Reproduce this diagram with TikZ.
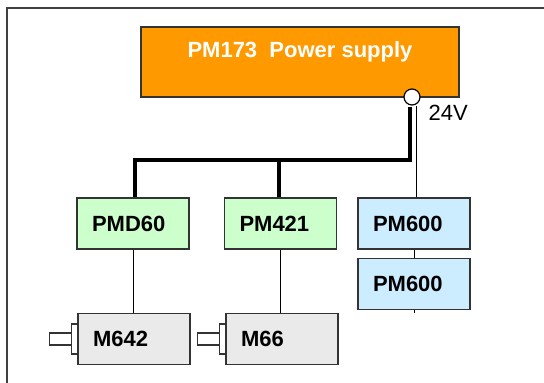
\documentclass[tikz,border=0pt]{standalone}
\usepackage{fontspec}
\setmainfont{Liberation Sans}
\usepackage{xcolor}
\usepackage{tikz}
\usetikzlibrary{positioning}

\definecolor{psorange}{HTML}{FF9900}
\definecolor{drvgreen}{HTML}{CCFFCC}
\definecolor{modblue}{HTML}{CCECFF}
\definecolor{motgray}{HTML}{EAEAEA}
\definecolor{edge}{HTML}{333333}

\tikzset{
  unit/.style={draw=edge, line width=1.2pt, minimum width=112pt, minimum height=51pt,
    inner xsep=15pt, text width=82pt, align=left, font=\fontsize{22}{26}\selectfont\bfseries},
  bus/.style={line width=4pt, line join=miter},
  wire/.style={line width=0.9pt},
  motor/.style={draw=edge, line width=1.2pt, fill=white}
}

\begin{document}
\begin{tikzpicture}[x=1pt,y=-1pt]
\useasboundingbox (0,0) rectangle (544,383);
\clip (0,0) rectangle (544,383);
% frame
\draw[draw=black!75, line width=1.5pt] (7,8) rectangle (600,420);
% power supply
\node[draw=edge, line width=1.2pt, fill=psorange, minimum width=318pt, inner ysep=0pt,
  text height=30pt, text depth=40pt, text=white, font=\fontsize{22}{26}\selectfont\bfseries]
  (ps) at (300,62) {PM173\ \ Power supply};
\node[circle, draw=black, line width=1.2pt, fill=white, minimum size=16pt, inner sep=0pt] (jack) at (412,97) {};
\node[anchor=west, font=\fontsize{22}{26}\selectfont] (volt) at (425,113) {24V};
% drives
\node[unit, fill=drvgreen] (pmd60) at (133,223.5) {PMD60};
\node[unit, fill=drvgreen] (pm421) at (280.5,223.5) {PM421};
\node[unit, fill=modblue] (pma) at (414,223.5) {PM600};
\node[unit, fill=modblue] (pmb) at (414,284) {PM600};
% motors
\node[unit, fill=motgray] (m642) at (134,339) {M642};
\node[unit, fill=motgray] (m66) at (282,339) {M66};
\foreach \m in {m642,m66} {
  \draw[motor] ([xshift=-6pt,yshift=15pt]\m.west) rectangle ([yshift=-15pt]\m.west);
  \draw[motor] ([xshift=-6pt,yshift=6pt]\m.west) rectangle ([xshift=-28pt,yshift=-6pt]\m.west);
}
% 24V bus
\coordinate (busl) at (135,160);
\draw[bus] ([xshift=-2pt,yshift=-1pt]jack.south) |- (busl) -- ([xshift=2pt]pmd60.north);
\draw[bus] ([xshift=-1.5pt]pm421.north) -- ([xshift=-1.5pt]pm421.north |- busl);
\draw[wire] ([xshift=2pt]pma.north) -- ([xshift=2pt]pma.north |- jack.south);
\draw[wire] (pma.south) -- (pmb.north);
\draw[wire] (pmb.south) -- ++(0,3);
% motor cables
\draw[wire] (pmd60.south) -- (pmd60.south |- m642.north);
\draw[wire] (pm421.south) -- (pm421.south |- m66.north);
\end{tikzpicture}
\end{document}
